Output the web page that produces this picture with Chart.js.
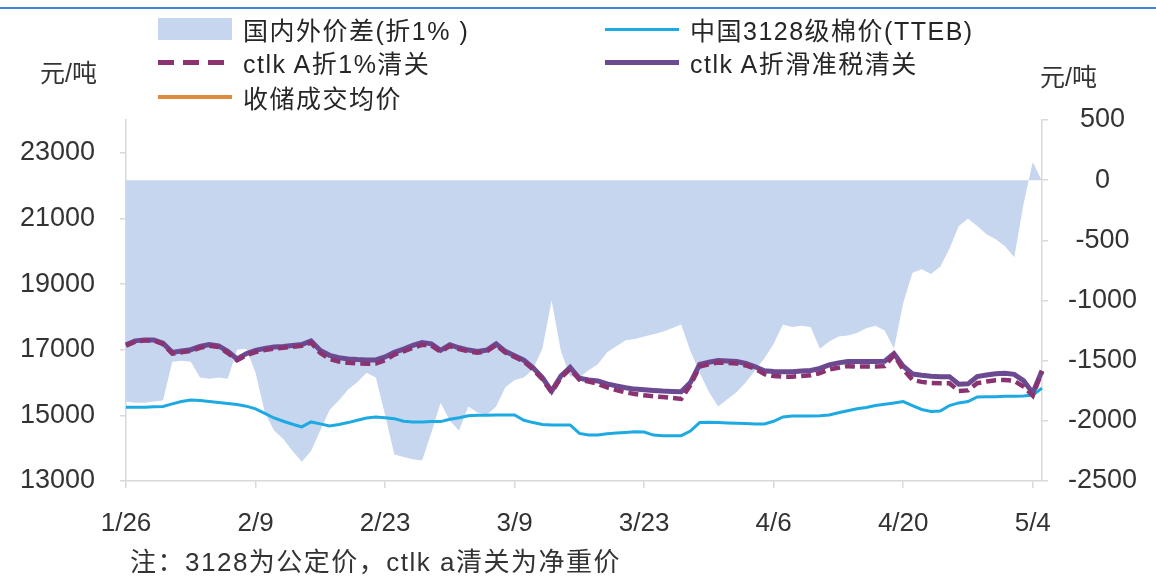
<!DOCTYPE html>
<html>
<head>
<meta charset="utf-8">
<script src="https://cdn.jsdelivr.net/npm/chart.js@4.4.1/dist/chart.umd.min.js"></script>
<style>
  html, body { margin: 0; padding: 0; background: #fff; }
  #wrap { position: relative; width: 1156px; height: 576px; overflow: hidden;
          font-family: "Liberation Sans", "Noto Sans CJK SC", sans-serif; color: #333; }
  #topline { position: absolute; left: 0; top: 7px; width: 1156px; height: 2px; background: #3F87D4; }
  #chart { position: absolute; left: 0; top: 0; }
  .unit { position: absolute; font-size: 25px; line-height: 1; color: #333; }
  .lg { position: absolute; display: flex; align-items: center; height: 30px;
        font-size: 25px; letter-spacing: 1.5px; color: #262626; white-space: nowrap; }
  .sw { width: 74px; margin-right: 11px; flex: none; }
  #note { position: absolute; left: 130px; top: 549px; font-size: 26px; letter-spacing: 1.5px;
          line-height: 1; color: #333; }
</style>
</head>
<body>
<div id="wrap">
  <div id="topline"></div>
  <canvas id="chart" width="1156" height="576"></canvas>
  <div id="legend"></div>
  <div class="unit" style="left:40px;top:61px;">元/吨</div>
  <div class="unit" style="left:1040px;top:65px;">元/吨</div>
  <div id="note">注：3128为公定价，ctlk a清关为净重价</div>
</div>
<script>
// Daily categories from 1/26 to 5/5
const startMonth = 1, startDay = 26, dayCount = 100;
const monthLengths = [31, 28, 31, 30, 31];
const categories = [];
(function () {
  let m = startMonth, d = startDay;
  for (let i = 0; i < dayCount; i++) {
    categories.push(m + '/' + d);
    d++;
    if (d > monthLengths[m - 1]) { d = 1; m++; }
  }
})();
const tickEvery = 14; // 1/26, 2/9, 2/23, 3/9, 3/23, 4/6, 4/20, 5/4

// Axis tick values
const leftTickValues = [13000, 15000, 17000, 19000, 21000, 23000];
const rightTickValues = [-2500, -2000, -1500, -1000, -500, 0, 500];

// 国内外价差(折1%) — right axis, 元/吨
const spread = [
  -1840,-1850,-1850,-1840,-1830,-1510,-1500,-1510,-1640,-1650,
  -1640,-1650,-1410,-1400,-1600,-1930,-2080,-2150,-2250,-2340,
  -2250,-2080,-1910,-1830,-1740,-1680,-1600,-1640,-1950,-2280,
  -2300,-2320,-2330,-2100,-1850,-2000,-2080,-1880,-1930,-1950,
  -1880,-1720,-1660,-1640,-1570,-1400,-1000,-1420,-1630,-1640,
  -1580,-1530,-1430,-1380,-1330,-1320,-1300,-1280,-1260,-1230,
  -1200,-1420,-1600,-1760,-1880,-1820,-1760,-1680,-1580,-1480,
  -1360,-1200,-1220,-1210,-1220,-1400,-1340,-1300,-1290,-1270,
  -1230,-1210,-1250,-1400,-1020,-770,-740,-780,-720,-570,
  -380,-320,-380,-450,-490,-550,-640,-200,150,-10
];

// 中国3128级棉价(TTEB) — left axis
const tteb = [
  15250,15250,15250,15260,15270,15350,15420,15470,15450,15420,
  15390,15360,15330,15280,15200,15060,14920,14820,14730,14650,
  14800,14740,14680,14720,14780,14850,14920,14950,14930,14900,
  14820,14800,14800,14810,14810,14880,14930,14990,15000,15000,
  15010,15010,15010,14850,14780,14720,14710,14710,14710,14450,
  14400,14400,14440,14460,14480,14500,14490,14400,14380,14380,
  14380,14520,14780,14790,14780,14770,14760,14750,14740,14740,
  14820,14950,14980,14980,14980,14990,15010,15080,15140,15200,
  15240,15300,15340,15380,15420,15300,15180,15120,15130,15300,
  15380,15420,15560,15570,15570,15580,15580,15590,15620,15830
];

// ctlk A折1%清关 — left axis
const ctlkQuota = [
  17120,17250,17280,17280,17170,16880,16920,16960,17060,17120,
  17080,16900,16680,16830,16930,16990,17030,17060,17090,17120,
  17220,16900,16720,16640,16600,16580,16570,16580,16680,16850,
  16950,17060,17150,17130,16940,17110,17020,16950,16910,16950,
  17140,16910,16780,16640,16400,16100,15700,16150,16410,16090,
  16030,15960,15850,15770,15700,15650,15610,15580,15560,15530,
  15500,15920,16490,16560,16610,16600,16580,16520,16420,16260,
  16200,16180,16180,16200,16220,16290,16400,16450,16500,16490,
  16490,16490,16500,16840,16400,16080,16020,15990,15980,15980,
  15740,15760,15980,16030,16070,16080,16050,15880,15600,16340
];

// ctlk A折滑准税清关 — left axis
const ctlkSliding = [
  17150,17270,17300,17300,17200,16920,16960,17000,17100,17160,
  17120,16950,16720,16880,16980,17040,17080,17100,17130,17160,
  17270,16980,16830,16760,16720,16700,16690,16690,16780,16920,
  17020,17130,17220,17180,16980,17150,17060,16990,16950,16990,
  17180,16950,16820,16680,16450,16150,15740,16200,16460,16130,
  16080,16050,15960,15900,15840,15800,15780,15760,15740,15730,
  15720,16000,16550,16620,16670,16660,16640,16580,16480,16360,
  16340,16330,16330,16350,16370,16430,16540,16600,16640,16640,
  16640,16640,16650,16880,16500,16260,16220,16190,16180,16180,
  15950,15960,16180,16230,16270,16280,16250,16060,15680,16360
];

// 收储成交均价 — no deals in this window
const reserveAvg = categories.map(() => null);

const axisColor = '#D9D9D9';
const tickFont = { family: '"Liberation Sans", Arial, sans-serif', size: 27 };
const xTickFont = { family: '"Liberation Sans", Arial, sans-serif', size: 26 };

const chart = new Chart(document.getElementById('chart').getContext('2d'), {
  type: 'line',
  data: {
    labels: categories,
    datasets: [
      { label: '国内外价差(折1% )', data: spread, yAxisID: 'y1', fill: 'origin',
        backgroundColor: '#C6D6EE', borderColor: '#C6D6EE', borderWidth: 0, order: 5,
        legendSwatch: 'box' },
      { label: '中国3128级棉价(TTEB)', data: tteb, yAxisID: 'y', fill: false,
        borderColor: '#1DA9E1', borderWidth: 3, order: 3, legendSwatch: 'line' },
      { label: 'ctlk A折1%清关', data: ctlkQuota, yAxisID: 'y', fill: false,
        borderColor: '#8A3370', borderWidth: 4.5, borderDash: [10, 5], order: 1, legendSwatch: 'dash' },
      { label: 'ctlk A折滑准税清关', data: ctlkSliding, yAxisID: 'y', fill: false,
        borderColor: '#6C4A92', borderWidth: 5, order: 2, legendSwatch: 'line' },
      { label: '收储成交均价', data: reserveAvg, yAxisID: 'y', fill: false,
        borderColor: '#E08A3E', borderWidth: 4, order: 4, legendSwatch: 'line' }
    ]
  },
  options: {
    responsive: false,
    animation: false,
    devicePixelRatio: 1,
    layout: { padding: { top: 120, left: 0, right: 0, bottom: 0 } },
    elements: { point: { radius: 0, hoverRadius: 0 }, line: { tension: 0 } },
    plugins: { legend: { display: false }, tooltip: { enabled: false } },
    scales: {
      x: {
        type: 'category',
        offset: false,
        grid: { display: true, drawOnChartArea: false, tickLength: 7, color: axisColor, lineWidth: 1.5 },
        border: { color: axisColor, width: 1.5 },
        ticks: {
          autoSkip: false, maxRotation: 0, minRotation: 0, padding: 20,
          font: xTickFont, color: '#333',
          callback: (v, i) => (i % tickEvery === 0 ? categories[i] : null)
        },
        afterFit: s => { s.height = 95; }
      },
      y: {
        position: 'left',
        min: 13000, max: 24000,
        grid: { display: true, drawOnChartArea: false, tickLength: 6, color: axisColor, lineWidth: 1.5 },
        border: { color: axisColor, width: 1.5 },
        ticks: { padding: 25, font: tickFont, color: '#333', callback: v => String(v) },
        afterBuildTicks: s => { s.ticks = leftTickValues.map(v => ({ value: v })); },
        afterFit: s => { s.width = 126; }
      },
      y1: {
        position: 'right',
        min: -2500, max: 500,
        grid: { display: true, drawOnChartArea: false, tickLength: 6, color: axisColor, lineWidth: 1.5 },
        border: { color: axisColor, width: 1.5 },
        ticks: { padding: 20, crossAlign: 'center', font: tickFont, color: '#333', callback: v => String(v) },
        afterBuildTicks: s => { s.ticks = rightTickValues.map(v => ({ value: v })); },
        afterFit: s => { s.width = 114; }
      }
    }
  }
});

// Legend built from the chart's own datasets: two columns, row-major
(function buildLegend() {
  const host = document.getElementById('legend');
  const colX = [158, 605];
  const rowY = [14, 47, 82];
  chart.data.datasets.forEach((ds, i) => {
    const item = document.createElement('div');
    item.className = 'lg';
    item.style.left = colX[i % 2] + 'px';
    item.style.top = rowY[Math.floor(i / 2)] + 'px';
    const sw = document.createElement('span');
    sw.className = 'sw';
    if (ds.legendSwatch === 'box') {
      sw.style.height = '22px';
      sw.style.background = ds.backgroundColor;
    } else if (ds.legendSwatch === 'dash') {
      sw.style.height = '5px';
      sw.style.background = 'repeating-linear-gradient(90deg,' + ds.borderColor + ' 0 16px, transparent 16px 25px)';
    } else {
      sw.style.height = Math.round(ds.borderWidth) + 'px';
      sw.style.background = ds.borderColor;
    }
    const tx = document.createElement('span');
    tx.textContent = ds.label;
    item.appendChild(sw);
    item.appendChild(tx);
    host.appendChild(item);
  });
})();
</script>
</body>
</html>
